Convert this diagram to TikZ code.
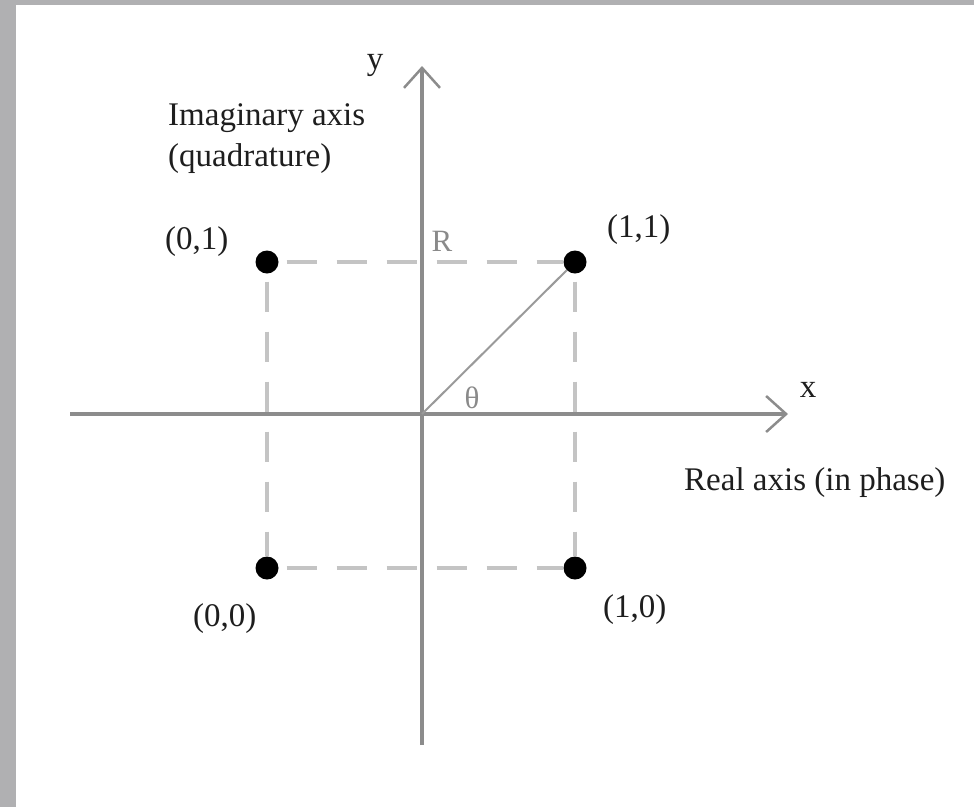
\documentclass[tikz,border=0pt]{standalone}
\usepackage{fontspec}
\setmainfont{Liberation Serif}
\usetikzlibrary{arrows.meta}
\definecolor{framegray}{HTML}{B0B0B2}
\definecolor{axisgray}{HTML}{8C8C8C}
\definecolor{dashgray}{HTML}{C4C4C4}
\definecolor{diaggray}{HTML}{9A9A9A}
\definecolor{txt}{HTML}{1E1E1E}
\definecolor{lbl}{HTML}{8A8A8A}
\tikzset{
  axis/.style={draw=axisgray, line width=4.5pt, -{Straight Barb[length=20pt,width=36pt,line width=2.5pt]}},
  guide/.style={draw=dashgray, line width=4pt, dash pattern=on 30pt off 20pt, dash phase=-8pt},
  diag/.style={draw=diaggray, line width=2pt},
  dot/.style={circle, fill=black, inner sep=0pt, minimum size=23pt},
  lab/.style={font=\fontsize{33}{38}\selectfont, text=txt, inner sep=0pt, anchor=base west},
  glab/.style={font=\fontsize{31}{36}\selectfont, text=lbl, inner sep=0pt, anchor=base}
}
\begin{document}
\begin{tikzpicture}[x=1pt,y=-1pt]
\useasboundingbox (0,0) rectangle (974,807);
\fill[white] (0,0) rectangle (974,807);
\fill[framegray] (0,0) rectangle (16,807);
\fill[framegray] (0,0) rectangle (974,5);
% axes coordinates
\coordinate (O) at (422,414);
\coordinate (xstart) at (70,414);
\coordinate (xend) at (788,414);
\coordinate (ybot) at (422,745);
\coordinate (ytop) at (422,66);
% points
\node[dot] (p01) at (267,262) {};
\node[dot] (p11) at (575,262) {};
\node[dot] (p00) at (267,568) {};
\node[dot] (p10) at (575,568) {};
% dashed guides
\draw[guide] (p01) -- (p11);
\draw[guide] (p00) -- (p10);
\draw[guide] (p01) -- (p00);
\draw[guide] (p11) -- (p10);
% axes
\draw[axis] (xstart) -- (xend);
\draw[axis] (ybot) -- (ytop);
% vector
\draw[diag] (O) -- (p11);
% labels
\node[lab, anchor=base] (ylab) at (375,69) {y};
\node[lab, anchor=base] (xlab) at (808,397) {x};
\node[lab] (imag) at (168,125) {Imaginary axis};
\node[lab] (quad) at (168,166) {(quadrature)};
\node[lab] (real) at (684,490) {Real axis (in phase)};
\node[lab] (l01) at (165,249) {(0,1)};
\node[lab] (l11) at (607,237) {(1,1)};
\node[lab] (l00) at (193,626) {(0,0)};
\node[lab] (l10) at (603,617) {(1,0)};
\node[glab] (Rlab) at (442,251) {R};
\node[glab] (thlab) at (472,408) {θ};
\end{tikzpicture}
\end{document}
